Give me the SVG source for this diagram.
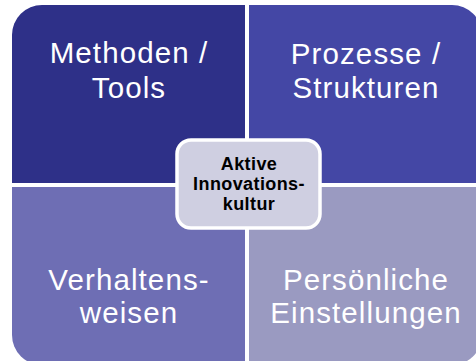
<svg xmlns="http://www.w3.org/2000/svg" width="476" height="361" viewBox="0 0 476 361">
<style>
.q{font-family:"Liberation Sans",Arial,sans-serif;font-size:29.5px;letter-spacing:1.1px;fill:#ffffff;text-anchor:middle}
.c{font-family:"Liberation Sans",Arial,sans-serif;font-size:18px;letter-spacing:0.4px;font-weight:bold;fill:#000000;text-anchor:middle}
</style>
<rect width="476" height="361" fill="#ffffff"/>
<g id="methoden">
<path d="M12 183 V35 A30 30 0 0 1 42 5 H245 V183 Z" fill="#2E3088"/>
<text class="q" x="129" y="63">Methoden /</text>
<text class="q" x="129" y="98">Tools</text>
</g>
<g id="prozesse">
<path d="M249 5 H452 A30 30 0 0 1 482 35 V183 H249 Z" fill="#4447A5"/>
<text class="q" x="366" y="64">Prozesse /</text>
<text class="q" x="366" y="98">Strukturen</text>
</g>
<g id="verhalten">
<path d="M12 187 H245 V365 H42 A30 30 0 0 1 12 335 Z" fill="#6E6EB4"/>
<text class="q" x="129" y="290">Verhaltens-</text>
<text class="q" x="129" y="323">weisen</text>
</g>
<g id="einstellungen">
<path d="M249 187 H482 V335 A30 30 0 0 1 452 365 H249 Z" fill="#9A9AC1"/>
<text class="q" x="366" y="290">Persönliche</text>
<text class="q" x="366" y="323">Einstellungen</text>
</g>
<g id="kultur">
<rect x="177" y="140" width="143" height="88" rx="14" fill="#CFCFE1" stroke="#ffffff" stroke-width="3.5"/>
<text class="c" x="249" y="170">Aktive</text>
<text class="c" x="249" y="190">Innovations-</text>
<text class="c" x="249" y="210">kultur</text>
</g>
<g id="connectors"/>
</svg>
